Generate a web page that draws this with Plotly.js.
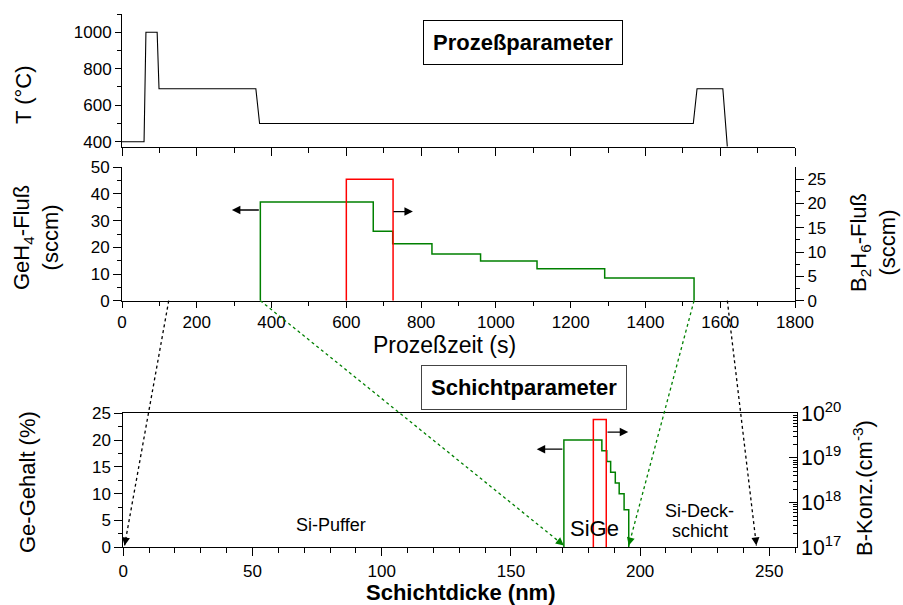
<!DOCTYPE html>
<html>
<head>
<meta charset="utf-8">
<script src="https://cdn.plot.ly/plotly-3.0.1.min.js"></script>
<style>
  html, body { margin: 0; padding: 0; background: #fff; }
  #chart { width: 903px; height: 605px; }
</style>
</head>
<body>
<div id="chart"></div>
<script>
// Temperature profile of the process (s, °C)
const tempTime = [0, 59, 64, 94, 99, 358, 368, 1528, 1538, 1607, 1619];
const tempC    = [400, 400, 1000, 1000, 690, 690, 500, 500, 690, 690, 373];

// GeH4 flow steps (s, sccm), drawn as a staircase
const gehTime = [370, 370, 672, 724, 829, 959, 1110, 1291, 1530];
const gehFlow = [0, 37, 26, 21.3, 17.5, 14.9, 12, 8.5, 0];

// B2H6 flow pulse (s, sccm)
const bhTime = [600, 600, 725, 725];
const bhFlow = [0, 25, 25, 0];

// Ge content over layer depth (nm, %)
const geDepth = [170.5, 170.5, 185.2, 187.1, 188.6, 190.4, 191.9, 193.8, 195.6];
const gePct   = [0, 20, 18, 16, 14, 12, 10, 7, 0];

// Boron concentration over layer depth (nm, cm^-3)
const bDepth = [181.9, 181.9, 186.9, 186.9];
const bConc  = [1e17, 7.3e19, 7.3e19, 1e17];

// Process time that corresponds to each layer depth
const linkTime  = [125, 370, 1530, 1619];
const linkDepth = [0.5, 170.5, 195.6, 245];

const W = 903, H = 605;
const FONT = 'Liberation Sans, Arial, Helvetica, sans-serif';
const GREEN = '#008000', RED = '#ff0000';
const px = v => v / W;
const py = v => 1 - v / H;

function axis(extra) {
  return Object.assign({
    showline: true, linecolor: '#000', linewidth: 1,
    ticks: 'outside', tickcolor: '#000', tickwidth: 1,
    showgrid: false, zeroline: false, fixedrange: true,
    tickfont: { size: 17, color: '#000', family: FONT }
  }, extra);
}
function minor(len, dtick, dir) {
  return { ticks: dir || 'outside', ticklen: len, dtick: dtick, tickcolor: '#000', tickwidth: 1, showgrid: false };
}

const layout = {
  width: W, height: H,
  margin: { l: 0, r: 0, t: 0, b: 0 },
  paper_bgcolor: '#fff', plot_bgcolor: 'rgba(0,0,0,0)',
  showlegend: false,
  font: { family: FONT, color: '#000' },
  // top panel: temperature
  xaxis: axis({ domain: [px(122), px(795)], range: [0, 1800], anchor: 'y',
    dtick: 200, tick0: 0, ticklen: 8, showticklabels: false, minor: minor(5, 100) }),
  yaxis: axis({ domain: [py(146.7), py(14)], range: [372.6, 1100], anchor: 'x',
    dtick: 200, tick0: 0, ticklen: 6, minor: minor(4, 100) }),
  // middle panel: gas flows
  xaxis2: axis({ domain: [px(122), px(795)], range: [0, 1800], anchor: 'y2',
    dtick: 200, tick0: 0, ticklen: 6, minor: minor(4, 100) }),
  yaxis2: axis({ domain: [py(300.7), py(167.3)], range: [0, 50], anchor: 'x2',
    dtick: 10, tick0: 0, ticklen: 8, minor: minor(4, 5) }),
  yaxis3: axis({ overlaying: 'y2', side: 'right', anchor: 'x2', range: [0, 27.44],
    dtick: 5, tick0: 0, ticklen: 8, minor: minor(4, 2.5) }),
  // bottom panel: layer profile
  xaxis3: axis({ domain: [px(123.3), px(796.7)], range: [0, 260.6], anchor: 'y4',
    dtick: 50, tick0: 0, ticklen: 8, mirror: true, minor: minor(5, 10) }),
  yaxis4: axis({ domain: [py(547.3), py(413.3)], range: [0, 25], anchor: 'x3',
    dtick: 5, tick0: 0, ticklen: 8, minor: minor(4, 2.5) }),
  yaxis5: axis({ overlaying: 'y4', side: 'right', anchor: 'x3', type: 'log', range: [17, 20],
    dtick: 1, exponentformat: 'power', ticks: 'inside', ticklen: 8, minor: minor(4, 'D1', 'inside') }),
  // full-page overlay used for the links between the panels
  xaxis4: { domain: [0, 1], range: [0, 1], visible: false, fixedrange: true, anchor: 'y6' },
  yaxis6: { domain: [0, 1], range: [0, 1], visible: false, fixedrange: true, anchor: 'x4' },
  annotations: []
};

function toPaper(ax, v) {
  const r0 = ax.range[0], r1 = ax.range[1];
  const t = ax.type === 'log' ? (Math.log10(v) - r0) / (r1 - r0) : (v - r0) / (r1 - r0);
  return ax.domain[0] + t * (ax.domain[1] - ax.domain[0]);
}

const traces = [
  { x: tempTime, y: tempC, xaxis: 'x', yaxis: 'y', mode: 'lines',
    line: { color: '#000', width: 1.1 }, hoverinfo: 'skip' },
  { x: gehTime, y: gehFlow, xaxis: 'x2', yaxis: 'y2', mode: 'lines',
    line: { color: GREEN, width: 1.5, shape: 'hv' }, hoverinfo: 'skip' },
  { x: bhTime, y: bhFlow, xaxis: 'x2', yaxis: 'y3', mode: 'lines',
    line: { color: RED, width: 1.5 }, hoverinfo: 'skip' },
  { x: geDepth, y: gePct, xaxis: 'x3', yaxis: 'y4', mode: 'lines',
    line: { color: GREEN, width: 1.5, shape: 'hv' }, hoverinfo: 'skip' },
  { x: bDepth, y: bConc, xaxis: 'x3', yaxis: 'y5', mode: 'lines',
    line: { color: RED, width: 1.5 }, hoverinfo: 'skip' }
];

// dotted links from the process time axis down to the depth axis,
// each ending in a small filled arrow head
linkTime.forEach((t, i) => {
  const color = (i === 0 || i === 3) ? '#000' : GREEN;
  const x0 = toPaper(layout.xaxis2, t), y0 = toPaper(layout.yaxis2, 0);
  const x1 = toPaper(layout.xaxis3, linkDepth[i]), y1 = toPaper(layout.yaxis4, 0) + 0.003;
  traces.push({ x: [x0, x1], y: [y0, y1], xaxis: 'x4', yaxis: 'y6', mode: 'lines',
    line: { color: color, width: 1.3, dash: 'dot' }, hoverinfo: 'skip' });
  const dx = (x0 - x1) * W, dy = -(y0 - y1) * H;
  const len = Math.hypot(dx, dy), L = 8;
  layout.annotations.push({ xref: 'paper', yref: 'paper', x: x1, y: y1,
    ax: dx / len * L, ay: dy / len * L, text: '', showarrow: true,
    arrowhead: 2, arrowsize: 1.6, arrowwidth: 1, arrowcolor: color, standoff: 0 });
});

// direction arrows pointing to the axis each curve belongs to
function dirArrow(xr, yr, tail, head, y) {
  return { xref: xr, yref: yr, axref: xr, ayref: yr, x: head, y: y, ax: tail, ay: y,
    text: '', showarrow: true, arrowhead: 2, arrowsize: 1.3, arrowwidth: 1.3,
    arrowcolor: '#000', standoff: 0 };
}
layout.annotations.push(
  dirArrow('x2', 'y2', 370, 294, 34),
  dirArrow('x2', 'y2', 722, 778, 33.4),
  dirArrow('x3', 'y4', 170.5, 160, 18.3),
  dirArrow('x3', 'y4', 186.8, 195.4, 21.5)
);

function label(text, x, y, size, extra) {
  return Object.assign({ xref: 'paper', yref: 'paper', x: px(x), y: py(y), text: text,
    showarrow: false, xanchor: 'center', yanchor: 'middle',
    font: { family: FONT, size: size, color: '#000' } }, extra || {});
}

layout.annotations.push(
  label('T (°C)', 23, 95, 22, { textangle: -90 }),
  label('GeH<sub>4</sub>-Fluß<br>(sccm)', 36, 238, 22, { textangle: -90 }),
  label('B<sub>2</sub>H<sub>6</sub>-Fluß<br>(sccm)', 873, 243, 22, { textangle: -90 }),
  label('Ge-Gehalt (%)', 27, 482, 22, { textangle: -90 }),
  label('B-Konz.(cm<sup>-3</sup>)', 863, 488, 22, { textangle: -90 }),
  label('Prozeßzeit (s)', 444, 345, 23),
  label('<b>Schichtdicke (nm)</b>', 460, 592, 22),
  label('<b>Prozeßparameter</b>', 522.5, 43, 22,
    { bordercolor: '#000', borderwidth: 1, bgcolor: '#fff', borderpad: 9 }),
  label('<b>Schichtparameter</b>', 523.7, 388, 22,
    { bordercolor: '#444', borderwidth: 1, bgcolor: '#fff', borderpad: 9 })
);

// layer names inside the depth panel
function layerText(text, depth, pct, size) {
  return { xref: 'x3', yref: 'y4', x: depth, y: pct, text: text, showarrow: false,
    xanchor: 'center', yanchor: 'middle', font: { family: FONT, size: size, color: '#000' } };
}
layout.annotations.push(
  layerText('Si-Puffer', 80.4, 4.2, 18),
  layerText('SiGe', 182.5, 3.5, 22),
  layerText('Si-Deck-', 223, 6.7, 18),
  layerText('schicht', 223, 3.0, 18)
);

Plotly.newPlot('chart', traces, layout, { staticPlot: true, displayModeBar: false });
</script>
</body>
</html>
